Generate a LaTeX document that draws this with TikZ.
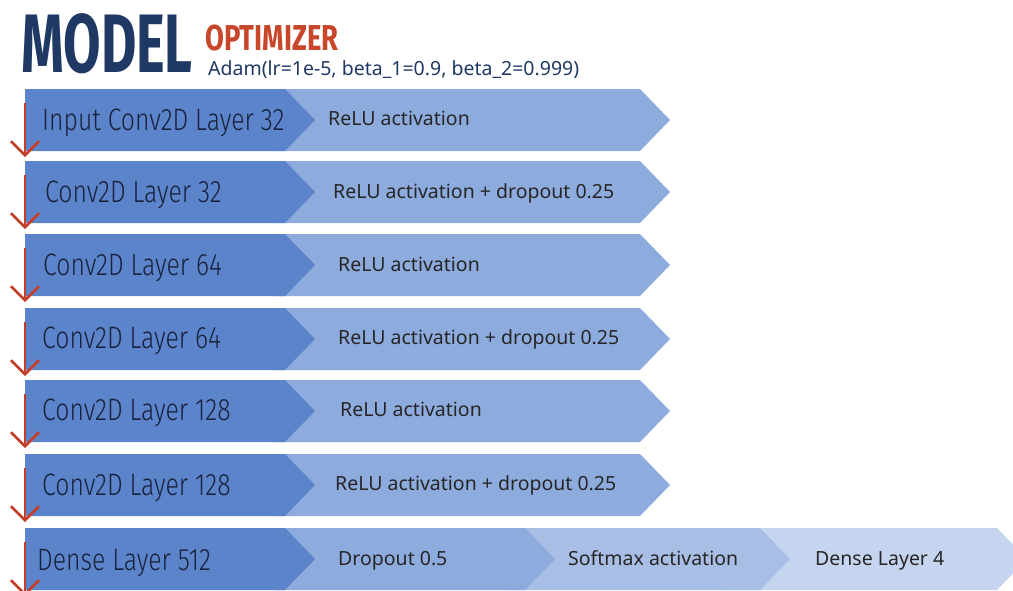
\documentclass[tikz,border=0pt]{standalone}
\usepackage{fontspec}
\usepackage{tikz}
\usetikzlibrary{arrows.meta}
\setmainfont{Noto Sans}
\newfontfamily\layerfont[FakeStretch=0.80]{Fira Sans Light}
\newfontfamily\headfont[FakeStretch=0.655]{Fira Sans}
\newfontfamily\optfont[FakeStretch=0.76]{Fira Sans}

\definecolor{layerblue}{RGB}{91,132,203}
\definecolor{actblue}{RGB}{142,171,222}
\definecolor{softblue}{RGB}{169,190,229}
\definecolor{paleblue}{RGB}{198,213,239}
\definecolor{titlenavy}{RGB}{31,56,100}
\definecolor{optired}{RGB}{200,70,42}
\definecolor{arrowred}{RGB}{196,62,42}
\definecolor{labelink}{RGB}{25,35,60}

\tikzset{
    layer/.style={fill=layerblue},
    act/.style={fill=actblue},
    layertext/.style={anchor=base west, inner sep=0pt, text=labelink, font=\layerfont\fontsize{31}{31}\selectfont},
    acttext/.style={anchor=base west, inner sep=0pt, text=black!85, font=\fontsize{19.5}{19.5}\selectfont},
    down/.style={draw=arrowred, line width=2.5pt, -{Straight Barb[length=14pt,width=28pt,line width=2.5pt]}}
}

\begin{document}
\begin{tikzpicture}[x=1pt,y=-1pt]

        \useasboundingbox (0,0) rectangle (1013,590);
        \clip (0,0) rectangle (1013,590);

        % heading
            \node[anchor=base west, inner sep=0pt, text=titlenavy, font=\headfont\bfseries\fontsize{83}{83}\selectfont] (model) at (21,72) {MODEL};
            \node[anchor=base west, inner sep=0pt, text=optired, font=\optfont\bfseries\fontsize{36}{36}\selectfont] (opt) at (205,50) {OPTIMIZER};
            \node[anchor=base west, inner sep=0pt, text=titlenavy, font=\fontsize{19.5}{19.5}\selectfont] (adam) at (208,75) {Adam(lr=1e-5, beta\_1=0.9, beta\_2=0.999)};

        % row corners
            \coordinate (r1) at (25,89);
            \coordinate (r2) at (25,161);
            \coordinate (r3) at (25,234);
            \coordinate (r4) at (25,308);
            \coordinate (r5) at (25,380);
            \coordinate (r6) at (25,454);
            \coordinate (r7) at (25,528);

        % activation bands
            \fill[act] ([xshift=250pt]r1) -- ++(365,0) -- ++(30,31) -- ++(-30,31) -- ++(-365,0) -- cycle;
            \fill[act] ([xshift=250pt]r2) -- ++(365,0) -- ++(30,31) -- ++(-30,31) -- ++(-365,0) -- cycle;
            \fill[act] ([xshift=250pt]r3) -- ++(365,0) -- ++(30,31) -- ++(-30,31) -- ++(-365,0) -- cycle;
            \fill[act] ([xshift=250pt]r4) -- ++(365,0) -- ++(30,31) -- ++(-30,31) -- ++(-365,0) -- cycle;
            \fill[act] ([xshift=250pt]r5) -- ++(365,0) -- ++(30,31) -- ++(-30,31) -- ++(-365,0) -- cycle;
            \fill[act] ([xshift=250pt]r6) -- ++(365,0) -- ++(30,31) -- ++(-30,31) -- ++(-365,0) -- cycle;
            \fill[paleblue] ([xshift=700pt]r7) -- ++(272,0) -- ++(30,31) -- ++(-30,31) -- ++(-272,0) -- cycle;
            \fill[softblue] ([xshift=480pt]r7) -- ++(255,0) -- ++(30,31) -- ++(-30,31) -- ++(-255,0) -- cycle;
            \fill[act] ([xshift=250pt]r7) -- ++(250,0) -- ++(30,31) -- ++(-30,31) -- ++(-250,0) -- cycle;

        % layer bands
            \fill[layer] (r1) -- ++(260,0) -- ++(30,31) -- ++(-30,31) -- ++(-260,0) -- cycle;
            \fill[layer] (r2) -- ++(260,0) -- ++(30,31) -- ++(-30,31) -- ++(-260,0) -- cycle;
            \fill[layer] (r3) -- ++(260,0) -- ++(30,31) -- ++(-30,31) -- ++(-260,0) -- cycle;
            \fill[layer] (r4) -- ++(260,0) -- ++(30,31) -- ++(-30,31) -- ++(-260,0) -- cycle;
            \fill[layer] (r5) -- ++(260,0) -- ++(30,31) -- ++(-30,31) -- ++(-260,0) -- cycle;
            \fill[layer] (r6) -- ++(260,0) -- ++(30,31) -- ++(-30,31) -- ++(-260,0) -- cycle;
            \fill[layer] (r7) -- ++(260,0) -- ++(30,31) -- ++(-30,31) -- ++(-260,0) -- cycle;

        % layer names
            \node[layertext] (in1) at (42,130) {Input Conv2D Layer 32};
            \node[layertext] (in2) at (45,202) {Conv2D Layer 32};
            \node[layertext] (in3) at (43,275) {Conv2D Layer 64};
            \node[layertext] (in4) at (42,348) {Conv2D Layer 64};
            \node[layertext] (in5) at (42,420) {Conv2D Layer 128};
            \node[layertext] (in6) at (42,495) {Conv2D Layer 128};
            \node[layertext] (in7) at (37,570) {Dense Layer 512};

        % activations
            \node[acttext] (act1) at (328,125) {ReLU activation};
            \node[acttext] (act2) at (333,198) {ReLU activation + dropout 0.25};
            \node[acttext] (act3) at (338,271) {ReLU activation};
            \node[acttext] (act4) at (338,344) {ReLU activation + dropout 0.25};
            \node[acttext] (act5) at (340,416) {ReLU activation};
            \node[acttext] (act6) at (335,490) {ReLU activation + dropout 0.25};
            \node[acttext] (act7) at (338,565) {Dropout 0.5};
            \node[acttext] (soft7) at (568,565) {Softmax activation};
            \node[acttext] (out7) at (815,565) {Dense Layer 4};

        % flow arrows
            \draw[down] ([yshift=-14pt]r1) -- ([yshift=-68pt]r1);
            \draw[down] ([yshift=-14pt]r2) -- ([yshift=-68pt]r2);
            \draw[down] ([yshift=-14pt]r3) -- ([yshift=-68pt]r3);
            \draw[down] ([yshift=-14pt]r4) -- ([yshift=-68pt]r4);
            \draw[down] ([yshift=-14pt]r5) -- ([yshift=-68pt]r5);
            \draw[down] ([yshift=-14pt]r6) -- ([yshift=-68pt]r6);
            \draw[down] ([yshift=-14pt]r7) -- ([yshift=-68pt]r7);
        \end{tikzpicture}
\end{document}
